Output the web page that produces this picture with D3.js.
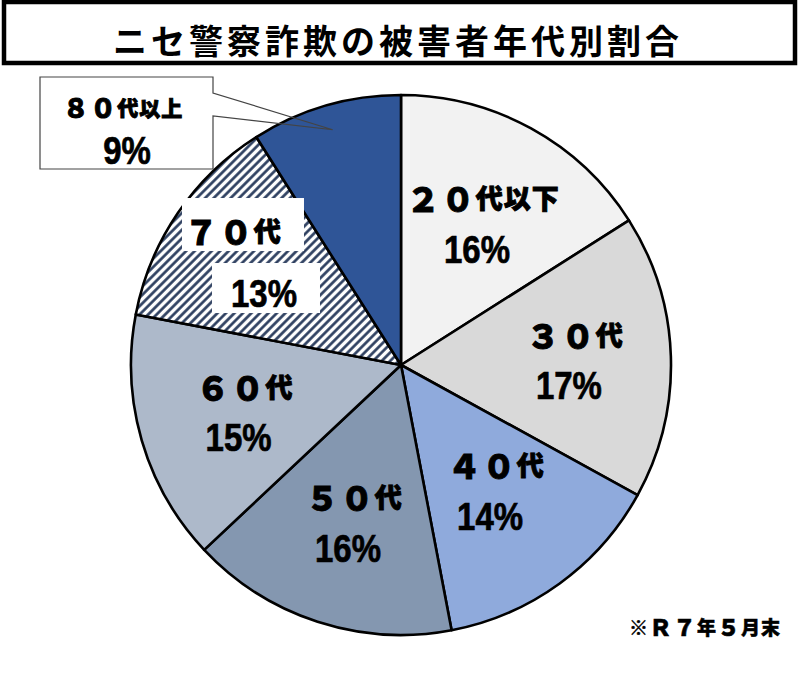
<!DOCTYPE html>
<html><head><meta charset="utf-8">
<script src="https://cdn.jsdelivr.net/npm/d3@7"></script>
<style>
html,body{margin:0;padding:0;background:#fff;}
svg{display:block;}
</style></head>
<body>
<svg id="chart" width="800" height="674"></svg>
<script>
const title = "ニセ警察詐欺の被害者年代別割合";
const categories = ["２０代以下","３０代","４０代","５０代","６０代","７０代","８０代以上"];
const values = [16,17,14,16,15,13,9];
const pctLabels = ["16%","17%","14%","16%","15%","13%","9%"];
const note = "※Ｒ７年５月末";

const colors = ["#f2f2f2","#d9d9d9","#8faadc","#8497b0","#adb9ca","url(#hatch)","#2f5597"];
const labelRadius = [162,170,155,165,167,185,245];

const svg = d3.select("#chart");
const cx = 401, cy = 365, R = 270;

// defs: hatch pattern
const defs = svg.append("defs");
const pat = defs.append("pattern").attr("id","hatch").attr("patternUnits","userSpaceOnUse")
  .attr("width",6).attr("height",6).attr("patternTransform","rotate(45)");
pat.append("rect").attr("width",6).attr("height",6).attr("fill","#ffffff");
pat.append("line").attr("x1",1.5).attr("y1",0).attr("x2",1.5).attr("y2",6)
  .attr("stroke","#26385a").attr("stroke-width",2.6);

// title box
svg.append("rect").attr("x",4).attr("y",2).attr("width",791).attr("height",61)
  .attr("fill","#fff").attr("stroke","#000").attr("stroke-width",4.5);
svg.append("text").attr("x",398).attr("y",39).attr("text-anchor","middle")
  .attr("dominant-baseline","central")
  .attr("font-family","'Noto Sans CJK JP'").attr("font-weight",700)
  .attr("font-size",34).attr("letter-spacing",4).attr("fill","#000").text(title);

// pie
const pie = d3.pie().sort(null).value(d=>d).startAngle(0).endAngle(2*Math.PI);
const arcs = pie(values);
const arc = d3.arc().innerRadius(0).outerRadius(R);
const g = svg.append("g").attr("transform",`translate(${cx},${cy})`);
g.selectAll("path.slice").data(arcs).join("path").attr("class","slice")
  .attr("d",arc).attr("fill",(d,i)=>colors[i])
  .attr("stroke","#000").attr("stroke-width",2.6).attr("stroke-linejoin","round");

function labelPos(d,i){
  const a = (d.startAngle+d.endAngle)/2;
  const r = labelRadius[i];
  return [Math.sin(a)*r, -Math.cos(a)*r];
}

const cjkFont = "'Noto Sans CJK JP'";
const pctFont = "'Liberation Sans', Arial, sans-serif";

function pctText(sel, x, y, t){
  sel.append("text").attr("transform",`translate(${x},${y}) scale(1,1.2)`)
    .attr("text-anchor","middle").attr("dominant-baseline","central")
    .attr("font-family",pctFont).attr("font-weight",700).attr("font-size",33)
    .attr("stroke","#000").attr("stroke-width",0.6)
    .attr("fill","#000").text(t);
}
function catText(sel, x, y, t, size, ls){
  const txt = sel.append("text").attr("x",x).attr("y",y)
    .attr("text-anchor","middle").attr("dominant-baseline","central")
    .attr("font-family",cjkFont).attr("font-weight",900).attr("font-size",size)
    .attr("letter-spacing",ls).attr("fill","#000")
    .attr("stroke","#000").attr("stroke-width",0.9);
  // full-width digits drawn a bit larger and heavier, like the original font
  Array.from(t).forEach(ch=>{
    const isDigit = /[０-９]/.test(ch);
    txt.append("tspan").attr("font-size", isDigit ? size*1.25 : size)
      .attr("dy", 0).text(ch);
  });
  return txt;
}

const lg = g.append("g");
arcs.forEach((d,i)=>{
  const [x,y] = labelPos(d,i);
  if(i===6) return;
  if(i===5){
    const x1 = x-15, y1 = y-31, x2 = x+16, y2 = y+32;
    lg.append("rect").attr("x",x1-51).attr("y",y1-32).attr("width",122).attr("height",53).attr("fill","#fff");
    lg.append("rect").attr("x",x2-52).attr("y",y2-30).attr("width",108).attr("height",50).attr("fill","#fff");
    catText(lg, x1, y1, categories[i], 27, 1);
    pctText(lg, x2, y2, pctLabels[i]);
  } else {
    catText(lg, x+4, y-26, categories[i], 27, 1);
    pctText(lg, x-2, y+26, pctLabels[i]);
  }
});

// 80代以上 callout
const d80 = arcs[6];
const [tx,ty] = labelPos(d80,6);
const tipX = cx+tx, tipY = cy+ty;
const bx0 = 40, by0 = 77, bx1 = 213, by1 = 169;
svg.append("path")
  .attr("d",`M${bx0},${by0} L${bx1},${by0} L${bx1},93 L${tipX},${tipY} L${bx1},116 L${bx1},${by1} L${bx0},${by1} Z`)
  .attr("fill","none").attr("stroke","#444").attr("stroke-width",1.2);
catText(svg, 123, 107, categories[6], 21, 1);
pctText(svg, 127, 150, pctLabels[6]);

// note
const nt = svg.append("text").attr("x",705).attr("y",626).attr("text-anchor","middle")
  .attr("dominant-baseline","central")
  .attr("font-family",cjkFont).attr("font-weight",900).attr("font-size",19)
  .attr("letter-spacing",1).attr("fill","#000").attr("stroke","#000").attr("stroke-width",0.5);
Array.from(note).forEach(ch=>{
  nt.append("tspan").attr("font-size", /[０-９Ｒ]/.test(ch) ? 23 : 19).text(ch);
});
</script>
</body></html>
